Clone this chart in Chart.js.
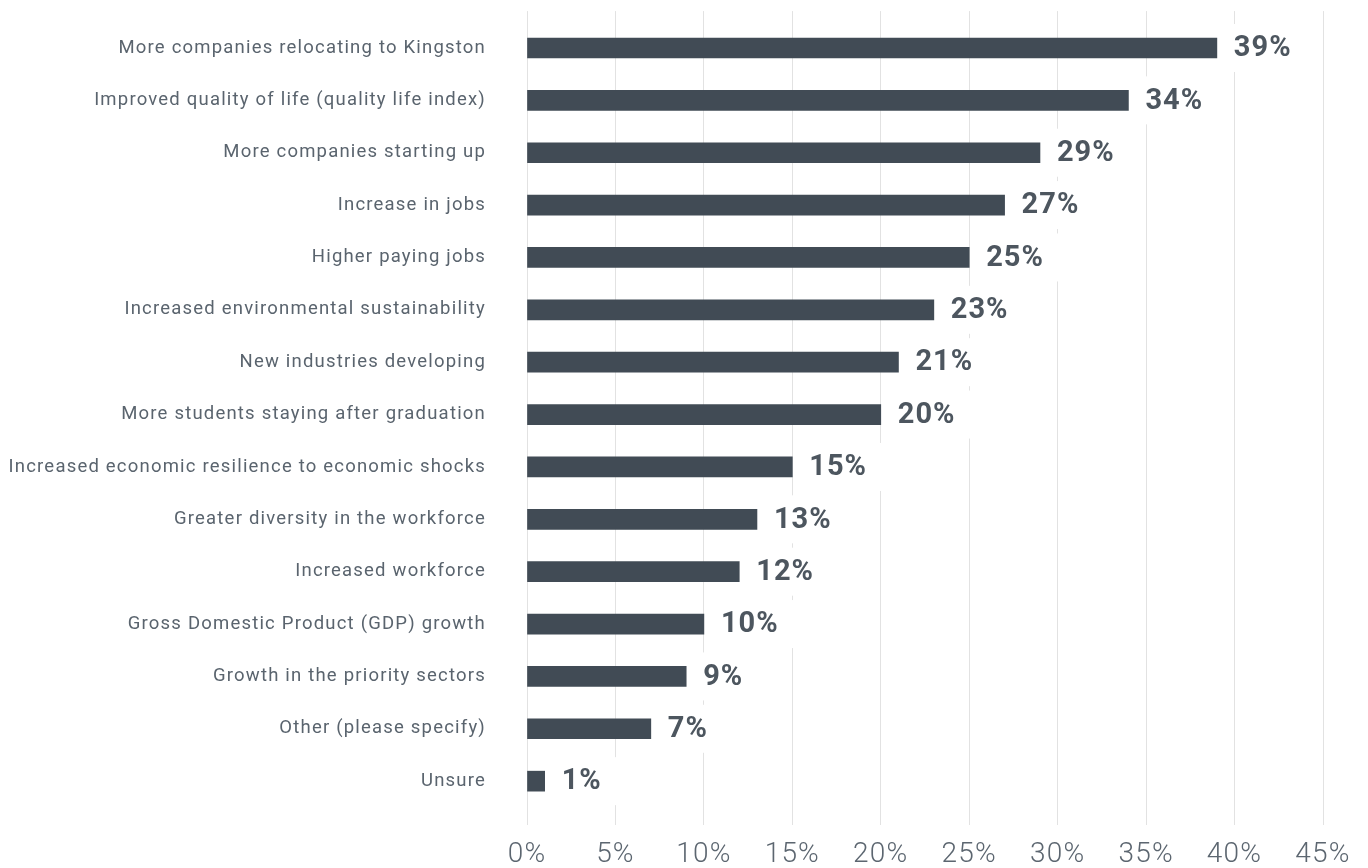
<!DOCTYPE html>
<html>
<head>
<meta charset="utf-8">
<script src="https://cdn.jsdelivr.net/npm/chart.js@4/dist/chart.umd.min.js"></script>
<style>
  html, body { margin: 0; padding: 0; background: #fff; }
  #wrap { width: 1368px; height: 868px; }
</style>
</head>
<body>
<div id="wrap"><canvas id="chartOutcomes"></canvas></div>
<script>
const categories = [
  'More companies relocating to Kingston',
  'Improved quality of life (quality life index)',
  'More companies starting up',
  'Increase in jobs',
  'Higher paying jobs',
  'Increased environmental sustainability',
  'New industries developing',
  'More students staying after graduation',
  'Increased economic resilience to economic shocks',
  'Greater diversity in the workforce',
  'Increased workforce',
  'Gross Domestic Product (GDP) growth',
  'Growth in the priority sectors',
  'Other (please specify)',
  'Unsure'
];
const valores = [39, 34, 29, 27, 25, 23, 21, 20, 15, 13, 12, 10, 9, 7, 1];
const xTicks = [0, 5, 10, 15, 20, 25, 30, 35, 40, 45];

const fontFamily = "Roboto, 'Noto Sans', sans-serif";

// a bit of tracking on the axis text, dropped again before the bars
const tracking = {
  id: 'tracking',
  beforeDraw(chart) { chart.ctx.letterSpacing = '1.2px'; },
  beforeDatasetsDraw(chart) { chart.ctx.letterSpacing = '0px'; }
};

// percentage labels on a white box so the grid lines break behind them
const barLabels = {
  id: 'barLabels',
  afterDatasetsDraw(chart) {
    const ctx = chart.ctx;
    const meta = chart.getDatasetMeta(0);
    ctx.save();
    ctx.letterSpacing = '1px';
    ctx.font = `bold 29px ${fontFamily}`;
    ctx.textAlign = 'left';
    ctx.textBaseline = 'middle';
    meta.data.forEach((bar, i) => {
      const text = valores[i] + '%';
      const w = ctx.measureText(text).width;
      ctx.fillStyle = '#ffffff';
      ctx.fillRect(bar.x + 6, bar.y - 24, w + 26, 48);
      ctx.fillStyle = '#4d565f';
      ctx.fillText(text, bar.x + 17, bar.y + 1);
    });
    ctx.restore();
  }
};

const ctx = document.getElementById('chartOutcomes').getContext('2d');
const chartOutcomes = new Chart(ctx, {
  type: 'bar',
  data: {
    datasets: [{
      data: valores.map((v, i) => ({ x: v, y: i })),
      backgroundColor: '#414b55',
      borderWidth: 0,
      barThickness: 20
    }]
  },
  options: {
    indexAxis: 'y',
    responsive: true,
    maintainAspectRatio: false,
    animation: false,
    layout: { padding: { top: 8, right: 45, bottom: 0, left: 0 } },
    scales: {
      x: {
        type: 'linear',
        min: 0,
        max: 45,
        afterFit: (scale) => { scale.height = 43; },
        afterBuildTicks: (scale) => { scale.ticks = xTicks.map(v => ({ value: v })); },
        grid: { color: '#e2e2e2', lineWidth: 1, drawTicks: false },
        border: { display: false },
        ticks: {
          padding: 13,
          color: '#5c6670',
          font: { family: fontFamily, size: 28, weight: 300 },
          callback: (v) => v + '%'
        }
      },
      y: {
        type: 'linear',
        reverse: true,
        offset: false,
        min: -0.704,
        max: 14.837,
        afterFit: (scale) => { scale.width = 527; },
        grid: { display: false, tickLength: 41 },
        border: { display: false },
        ticks: {
          stepSize: 1,
          autoSkip: false,
          padding: 0,
          color: '#5a646e',
          font: { family: fontFamily, size: 18.5 },
          callback: (v) => Number.isInteger(v) ? categories[v] : ''
        }
      }
    },
    plugins: {
      legend: { display: false },
      tooltip: { enabled: false }
    }
  },
  plugins: [tracking, barLabels]
});
</script>
</body>
</html>
